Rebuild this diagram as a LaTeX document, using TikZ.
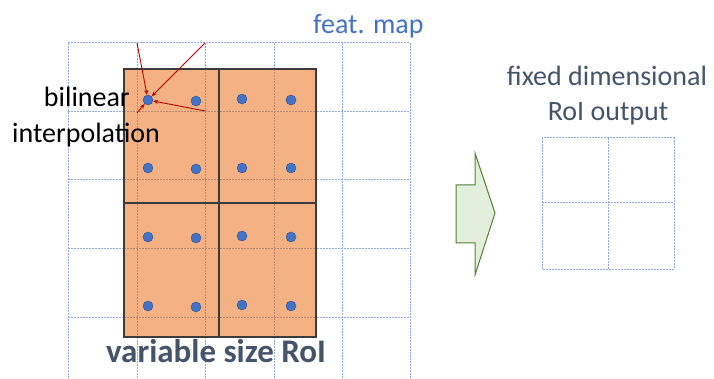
\documentclass[tikz,border=0pt]{standalone}
\usepackage{fontspec}
\setmainfont{Carlito}
\usetikzlibrary{arrows.meta}
\definecolor{gridblue}{HTML}{8FAADC}
\definecolor{gridbrown}{HTML}{B98A70}
\definecolor{roifill}{HTML}{F4B183}
\definecolor{roiedge}{HTML}{3B3B3B}
\definecolor{dotblue}{HTML}{4472C4}
\definecolor{dotedge}{HTML}{2F528F}
\definecolor{slate}{HTML}{44546A}
\definecolor{featblue}{HTML}{4472C4}
\definecolor{arrred}{HTML}{C00000}
\definecolor{greenfill}{HTML}{E2EFDA}
\definecolor{greenedge}{HTML}{548235}
\begin{document}
\begin{tikzpicture}[x=1pt,y=-1pt,
  gridline/.style={gridblue, line width=1pt, dash pattern=on 2pt off 1pt},
  gridin/.style={gridbrown, line width=1pt, dash pattern=on 2pt off 1pt},
  roiedgeline/.style={roiedge, line width=1.4pt},
  sample/.style={circle, fill=dotblue, draw=dotedge, line width=0.4pt, minimum size=10pt, inner sep=0pt},
  interp/.style={arrred, line width=0.9pt, -{Stealth[length=5pt,width=4pt]}},
  lbl/.style={font=\fontsize{28}{30}\selectfont, inner sep=0pt}
]
\useasboundingbox (0,0) rectangle (714,379);
% feature map grid
\begin{scope}
\clip (0,0) rectangle (714,379);
\foreach \y in {43,112,180,248,317} \draw[gridline] (68,\y) -- (410,\y);
\foreach \x in {68,137,205,274,342,410} \draw[gridline] (\x,43) -- (\x,385);
\end{scope}
% RoI
\fill[roifill] (124,69) rectangle (316,337);
\begin{scope}
\clip (124,69) rectangle (316,337);
\foreach \y in {112,180,248,317} \draw[gridin] (124,\y) -- (316,\y);
\foreach \x in {137,205,274} \draw[gridin] (\x,69) -- (\x,337);
\end{scope}
\draw[roiedgeline] (124,69) rectangle (316,337);
\draw[roiedgeline] (219,69) -- (219,337);
\draw[roiedgeline] (124,203) -- (316,203);
% sample points
\node[sample] (d11) at (148,100) {};
\node[sample] (d12) at (196,101) {};
\node[sample] (d13) at (242,99) {};
\node[sample] (d14) at (291,100) {};
\node[sample] (d21) at (148,168) {};
\node[sample] (d22) at (196,169) {};
\node[sample] (d23) at (242,168) {};
\node[sample] (d24) at (291,168) {};
\node[sample] (d31) at (148,237) {};
\node[sample] (d32) at (196,238) {};
\node[sample] (d33) at (242,236) {};
\node[sample] (d34) at (291,237) {};
\node[sample] (d41) at (148,306) {};
\node[sample] (d42) at (196,307) {};
\node[sample] (d43) at (242,305) {};
\node[sample] (d44) at (291,306) {};
% interpolation arrows
\coordinate (g1) at (137,43);
\coordinate (g2) at (205,43);
\coordinate (g3) at (205,111);
\coordinate (g4) at (137,113);
\draw[interp] (g1) -- (d11);
\draw[interp] (g2) -- (d11);
\draw[interp] (g3) -- (d11);
\draw[interp] (g4) -- (d11);
% labels
\node[lbl, anchor=base east] (bil) at (130,107) {bilinear};
\node[lbl, anchor=base west] (interp) at (12,143) {interpolation};
\node[lbl, anchor=base west, text=featblue] (feat) at (313,34) {feat. map};
\node[lbl, anchor=base, text=slate, font=\fontsize{33}{35}\selectfont\bfseries] (var) at (216,362) {variable size RoI};
\node[lbl, anchor=base, text=slate] (fixed1) at (607,86) {fixed dimensional};
\node[lbl, anchor=base, text=slate] (fixed2) at (608,121) {RoI output};
% green arrow
\draw[greenedge, fill=greenfill, line width=1pt, line join=miter]
  (456,185) -- (475,185) -- (475,153) -- (495,213) -- (475,275) -- (475,243) -- (456,243) -- cycle;
% output grid
\draw[gridline] (542,138) rectangle (674,269);
\draw[gridline] (608,138) -- (608,269);
\draw[gridline] (542,203) -- (674,203);
\end{tikzpicture}
\end{document}
